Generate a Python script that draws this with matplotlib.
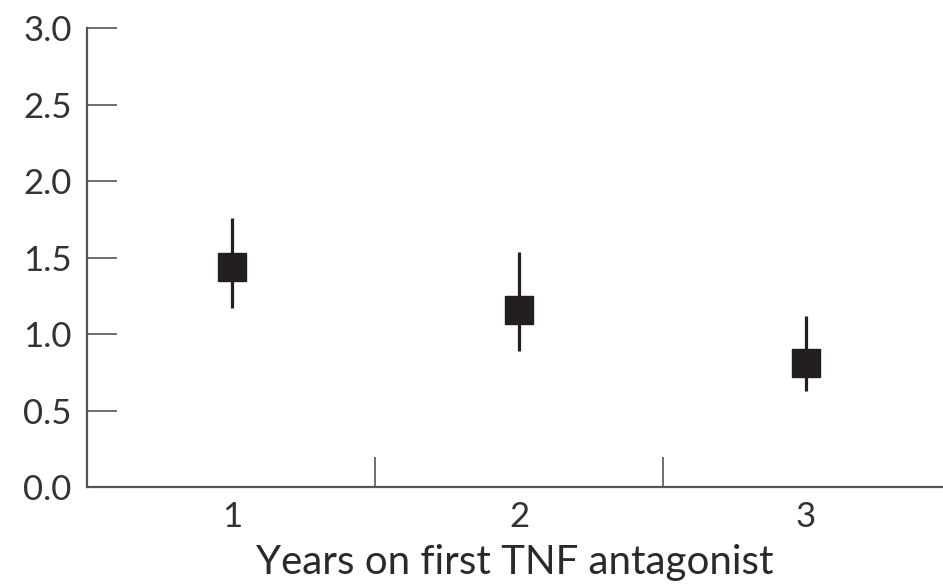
import matplotlib
matplotlib.use("Agg")
import matplotlib.pyplot as plt

# Values
years = [1, 2, 3]
means = [1.44, 1.16, 0.81]
upper = [1.76, 1.54, 1.12]
lower = [1.175, 0.89, 0.63]
ytick_values = [0.0, 0.5, 1.0, 1.5, 2.0, 2.5, 3.0]
ytick_labels = ["0.0", "0.5", "1.0", "1.5", "2.0", "2.5", "3.0"]
x_label = "Years on first TNF antagonist"

plt.rcParams["font.family"] = ["Lato", "DejaVu Sans"]

INK = "#231f20"
AXIS = "#555555"

fig = plt.figure(figsize=(9.43, 5.87), dpi=100)
ax = fig.add_axes([87 / 943, 99.7 / 587, (943 - 87) / 943, 459 / 587])

# Error bars and square markers
err_lo = [m - l for m, l in zip(means, lower)]
err_hi = [u - m for m, u in zip(means, upper)]
ax.errorbar(years, means, yerr=[err_lo, err_hi], fmt="s", color=INK,
            markersize=19.5, elinewidth=2.3, capsize=0, zorder=3)

ax.set_xlim(0.495, 3.477)
ax.set_ylim(0, 3.0)

for side in ["top", "right"]:
    ax.spines[side].set_visible(False)
for side in ["left", "bottom"]:
    ax.spines[side].set_color(AXIS)
    ax.spines[side].set_linewidth(1.6)

ax.set_yticks(ytick_values)
ax.set_yticklabels(ytick_labels)
ax.tick_params(axis="y", direction="in", length=21.6, width=1.2, color=AXIS,
               pad=11, labelsize=25, labelcolor="#333333")

# category labels without marks, divider ticks between categories
ax.set_xticks(years)
ax.set_xticklabels([str(y) for y in years])
ax.tick_params(axis="x", which="major", length=0, pad=10, labelsize=25, labelcolor="#333333")
ax.set_xticks([1.5, 2.5], minor=True)
ax.tick_params(axis="x", which="minor", direction="in", length=21.6, width=1.2, color=AXIS)

ax.set_xlabel(x_label, fontsize=29, color="#2a2a2a", labelpad=8)

fig.savefig("out.png", dpi=100)
